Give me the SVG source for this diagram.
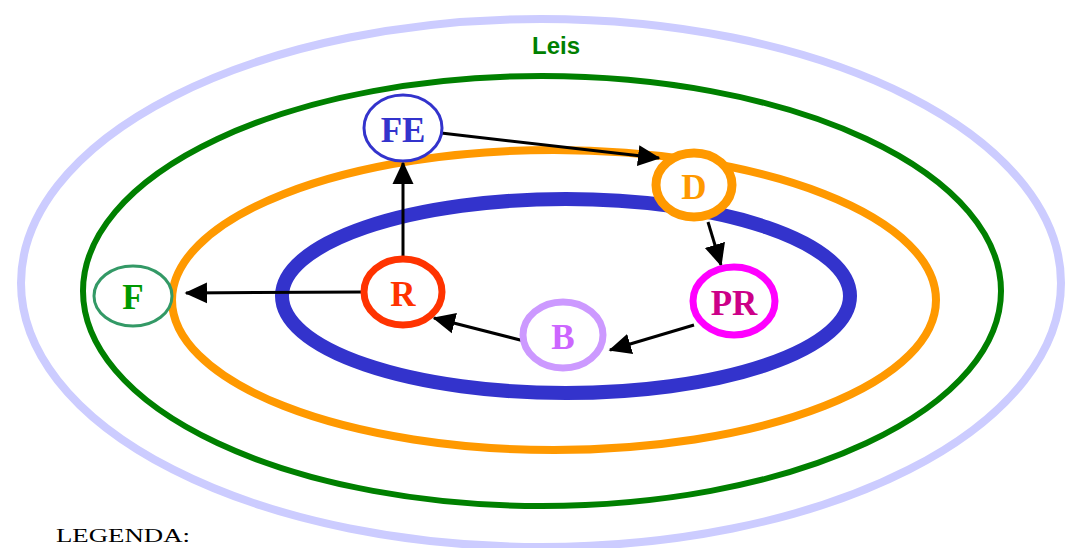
<svg xmlns="http://www.w3.org/2000/svg" width="1066" height="548" viewBox="0 0 1066 548">
<defs>
<style>
.ring{fill:none}
.node{fill:#fff}
.lbl{font-family:"Liberation Serif",serif;font-weight:bold;font-size:35px;text-anchor:middle;dominant-baseline:central}
.conn{stroke:#000;stroke-width:3;fill:none;marker-end:url(#ah)}
</style>
<marker id="ah" markerWidth="8" markerHeight="8" refX="7" refY="4" orient="auto" markerUnits="strokeWidth">
<path d="M0,0.5 L7.5,4 L0,7.5 Z" fill="#000"/>
</marker>
</defs>
<rect width="1066" height="548" fill="#fff"/>
<g id="rings">
<ellipse class="ring" cx="541" cy="283" rx="520" ry="264" stroke="#ccccff" stroke-width="8"/>
<ellipse class="ring" cx="542" cy="291" rx="459" ry="215" stroke="#008000" stroke-width="6"/>
<ellipse class="ring" cx="554" cy="300" rx="382" ry="150" stroke="#ff9900" stroke-width="8"/>
<ellipse class="ring" cx="566" cy="296" rx="284" ry="97" stroke="#3333cc" stroke-width="14"/>
</g>
<text x="556" y="54" font-family="Liberation Sans,Arial,sans-serif" font-weight="bold" font-size="24" fill="#008000" text-anchor="middle">Leis</text>
<g id="connectors">
<line class="conn" x1="403" y1="258" x2="403" y2="163"/>
<line class="conn" x1="441" y1="133" x2="659" y2="158"/>
<line class="conn" x1="708" y1="222" x2="721" y2="265"/>
<line class="conn" x1="694" y1="325" x2="610" y2="350"/>
<line class="conn" x1="524" y1="341" x2="434" y2="318"/>
<line class="conn" x1="363" y1="292" x2="186" y2="293"/>
</g>
<g id="FE">
<ellipse class="node" cx="403" cy="128" rx="39" ry="33" stroke="#3333cc" stroke-width="3"/>
<text class="lbl" x="403" y="130" fill="#3333cc">FE</text>
</g>
<g id="D">
<ellipse class="node" cx="694" cy="185" rx="38" ry="32" stroke="#ff9900" stroke-width="9"/>
<text class="lbl" x="694" y="187" fill="#ff9900">D</text>
</g>
<g id="PR">
<ellipse class="node" cx="734" cy="301" rx="41" ry="34" stroke="#ff00ff" stroke-width="7"/>
<text class="lbl" x="734" y="303" fill="#cc0088">PR</text>
</g>
<g id="B">
<ellipse class="node" cx="563" cy="335" rx="40" ry="33" stroke="#cc99ff" stroke-width="7"/>
<text class="lbl" x="563" y="337" fill="#cc66ff">B</text>
</g>
<g id="R">
<ellipse class="node" cx="403" cy="292" rx="39" ry="33" stroke="#ff3300" stroke-width="7"/>
<text class="lbl" x="403" y="294" fill="#ff3300" font-weight="normal">R</text>
</g>
<g id="F">
<ellipse class="node" cx="133" cy="296" rx="39" ry="30" stroke="#339966" stroke-width="3"/>
<text class="lbl" x="133" y="297" fill="#009900">F</text>
</g>
<text x="56" y="542" font-family="Liberation Serif,serif" font-size="19" fill="#000" textLength="134" lengthAdjust="spacingAndGlyphs">LEGENDA:</text>
</svg>
